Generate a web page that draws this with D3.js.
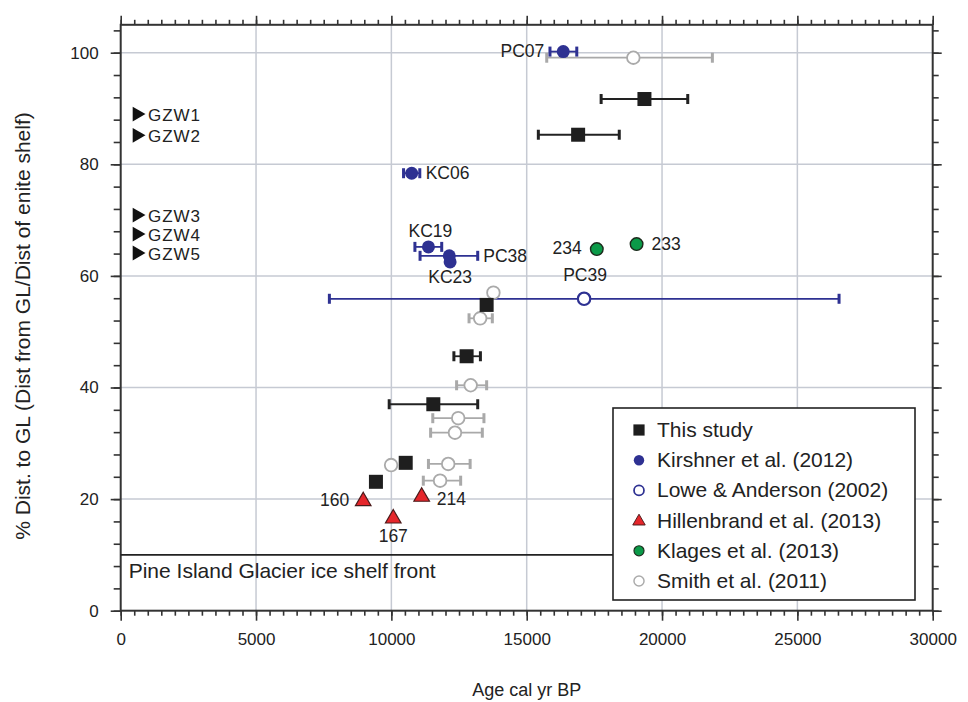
<!DOCTYPE html>
<html>
<head>
<meta charset="utf-8">
<script src="https://cdn.jsdelivr.net/npm/d3@7"></script>
<style>
  body { margin: 0; background: #fff; }
  text { font-family: "Liberation Sans", Arial, sans-serif; fill: #222; }
</style>
</head>
<body>
<svg id="chart" width="968" height="702"></svg>
<script>
// each row: [age cal yr BP, % dist to GL, age min, age max, label]
const thisStudy = [
    [19350, 91.7, 17750, 20950],
    [16900, 85.3, 15430, 18420],
    [13520, 54.8],
    [12780, 45.6, 12310, 13290],
    [11550, 37.0, 9920, 13190],
    [10530, 26.5],
    [9430, 23.1]
];
const kirshner = [
    [16350, 100.2, 15860, 16850, 'PC07'],
    [10750, 78.4, 10450, 11050, 'KC06'],
    [11370, 65.2, 10870, 11860, 'KC19'],
    [12140, 63.6, 11060, 13190, 'PC38'],
    [12170, 62.5, null, null, 'KC23']
];
const lowe = [
    [17120, 55.9, 7710, 26540, 'PC39']
];
const hillenbrand = [
    [8960, 19.8, null, null, '160'],
    [10070, 16.7, null, null, '167'],
    [11120, 20.6, null, null, '214']
];
const klages = [
    [17590, 64.8, null, null, '234'],
    [19060, 65.7, null, null, '233']
];
const smith = [
    [18940, 99.1, 15740, 21860],
    [13770, 57.0],
    [13280, 52.4, 12870, 13730],
    [12930, 40.4, 12410, 13520],
    [12470, 34.5, 11530, 13420],
    [12350, 31.9, 11450, 13360],
    [9990, 26.1],
    [12100, 26.3, 11370, 12910],
    [11800, 23.3, 11180, 12560]
];
const gzwNames = ['GZW1', 'GZW2', 'GZW3', 'GZW4', 'GZW5'];
const gzwDist = [89.0, 85.2, 70.9, 67.5, 64.1];
const gzwAge = 600;
const iceShelfFront = 10;
const legendNames = ['This study', 'Kirshner et al. (2012)', 'Lowe & Anderson (2002)',
    'Hillenbrand et al. (2013)', 'Klages et al. (2013)', 'Smith et al. (2011)'];
const xMajor = d3.range(0, 30001, 5000);
const xMinor = d3.range(0, 30001, 500);
const yMajor = d3.range(0, 101, 20);
const yMinor = d3.range(0, 105, 4);

// label placement (offset from the marker, px)
const labelPos = {
    PC07: [-19, 5, 'end'], KC06: [14, 6, 'start'], KC19: [2, -10, 'middle'],
    PC38: [34, 6, 'start'], KC23: [0, 21, 'middle'], PC39: [1, -18, 'middle'],
    '160': [-14, 6, 'end'], '167': [0, 24, 'middle'], '214': [15, 9, 'start'],
    '234': [-15, 5, 'end'], '233': [15, 6, 'start']
};

const svg = d3.select('#chart');
const L = 120.7, R = 932.7, T = 24.8, B = 610.7;
const x = d3.scaleLinear().domain([0, 30000]).range([L, R]);
const y = d3.scaleLinear().domain([0, 105]).range([B, T]);

// grid
svg.append('g').selectAll('line').data(xMajor.slice(1, -1)).enter().append('line')
    .attr('x1', d => x(d)).attr('x2', d => x(d)).attr('y1', T).attr('y2', B)
    .attr('stroke', '#c6cad3').attr('stroke-width', 1.5);
svg.append('g').selectAll('line').data(yMajor.slice(1)).enter().append('line')
    .attr('x1', L).attr('x2', R).attr('y1', d => y(d)).attr('y2', d => y(d))
    .attr('stroke', '#c6cad3').attr('stroke-width', 1.5);

// axes: minor + major ticks on all four sides
function ticks(axisFn, scale, vals, size, pos, labels) {
    const a = axisFn(scale).tickValues(vals).tickSizeInner(size).tickSizeOuter(0).tickPadding(12)
        .tickFormat(labels ? d3.format('d') : '');
    const g = svg.append('g').attr('transform', pos).call(a);
    g.select('.domain').remove();
    g.selectAll('line').attr('stroke', '#333').attr('stroke-width', 1.6);
    g.selectAll('text').attr('font-size', 17).attr('fill', '#222')
        .style('font-family', '"Liberation Sans", Arial, sans-serif');
    return g;
}
ticks(d3.axisBottom, x, xMinor, 5, `translate(0,${B})`);
ticks(d3.axisBottom, x, xMajor, 10, `translate(0,${B})`, true);
ticks(d3.axisTop, x, xMinor, 5, `translate(0,${T})`);
ticks(d3.axisTop, x, xMajor, 9, `translate(0,${T})`);
ticks(d3.axisLeft, y, yMinor, 7, `translate(${L},0)`);
ticks(d3.axisLeft, y, yMajor, 10, `translate(${L},0)`, true);
ticks(d3.axisRight, y, yMinor, 6, `translate(${R},0)`);
ticks(d3.axisRight, y, yMajor, 9, `translate(${R},0)`);

svg.append('rect').attr('x', L).attr('y', T).attr('width', R - L).attr('height', B - T)
    .attr('fill', 'none').attr('stroke', '#333').attr('stroke-width', 2);

// axis titles
svg.append('text').attr('x', (L + R) / 2).attr('y', 696).attr('text-anchor', 'middle')
    .attr('font-size', 18).text('Age cal yr BP');
svg.append('text').attr('transform', `translate(30,326) rotate(-90)`)
    .attr('text-anchor', 'middle').attr('font-size', 21)
    .text('% Dist. to GL (Dist from GL/Dist of enite shelf)');

// legend box geometry
const lg = { x: 613, y: 408, w: 302, h: 192 };

// ice shelf front
svg.append('line').attr('x1', x(0)).attr('x2', lg.x).attr('y1', y(iceShelfFront)).attr('y2', y(iceShelfFront))
    .attr('stroke', '#222').attr('stroke-width', 1.6);
svg.append('text').attr('x', x(0) + 8).attr('y', y(iceShelfFront) + 23)
    .attr('font-size', 21).text('Pine Island Glacier ice shelf front');

// GZW markers
const gz = svg.append('g');
gz.selectAll('path').data(gzwDist).enter().append('path')
    .attr('d', d3.symbol(d3.symbolTriangle, 95)())
    .attr('transform', d => `translate(${x(gzwAge)},${y(d)}) rotate(90)`)
    .attr('fill', '#111');
gz.selectAll('text').data(gzwDist).enter().append('text')
    .attr('x', x(gzwAge) + 11).attr('y', d => y(d) + 6.5)
    .attr('font-size', 17).attr('letter-spacing', 1).text((d, i) => gzwNames[i]);

// error bars
function errorBars(data, color) {
    const g = svg.append('g');
    const rows = data.filter(d => d[2] != null);
    g.selectAll('line').data(rows).enter().append('line')
        .attr('x1', d => x(d[2])).attr('x2', d => x(d[3]))
        .attr('y1', d => y(d[1])).attr('y2', d => y(d[1]))
        .attr('stroke', color).attr('stroke-width', 1.8);
    const caps = rows.flatMap(d => [[d[2], d[1]], [d[3], d[1]]]);
    g.selectAll('rect').data(caps).enter().append('rect')
        .attr('x', d => x(d[0]) - 1.5).attr('y', d => y(d[1]) - 5)
        .attr('width', 3).attr('height', 10).attr('fill', color);
}
errorBars(smith, '#a9a9a9');
errorBars(lowe, '#2e3192');
errorBars(thisStudy, '#222');
errorBars(kirshner, '#2e3192');

// marker styles
const styles = {
    square: g => g.append('rect').attr('x', -7).attr('y', -7).attr('width', 14).attr('height', 14).attr('fill', '#1e1e1e'),
    blueDot: g => g.append('circle').attr('r', 6.5).attr('fill', '#2e3192'),
    blueRing: g => g.append('circle').attr('r', 6.2).attr('fill', '#fff').attr('stroke', '#2e3192').attr('stroke-width', 2.2),
    triangle: g => g.append('path').attr('d', d3.symbol(d3.symbolTriangle, 105)()).attr('transform', 'translate(0,1)')
        .attr('fill', '#e5262b').attr('stroke', '#4a1a1a').attr('stroke-width', 1.2),
    greenDot: g => g.append('circle').attr('r', 6.3).attr('fill', '#0b9a48').attr('stroke', '#1c2a1c').attr('stroke-width', 1.4),
    greyRing: g => g.append('circle').attr('r', 6.3).attr('fill', '#fff').attr('stroke', '#aaaaaa').attr('stroke-width', 1.8)
};

function markers(data, style) {
    const g = svg.append('g').selectAll('g').data(data).enter().append('g')
        .attr('transform', d => `translate(${x(d[0])},${y(d[1])})`);
    styles[style](g);
}
markers(smith, 'greyRing');
markers(lowe, 'blueRing');
markers(thisStudy, 'square');
markers(kirshner, 'blueDot');
markers(hillenbrand, 'triangle');
markers(klages, 'greenDot');

// point labels
const labelled = [].concat(kirshner, lowe, hillenbrand, klages).filter(d => d[4]);
svg.append('g').selectAll('text').data(labelled).enter().append('text')
    .attr('x', d => x(d[0]) + labelPos[d[4]][0])
    .attr('y', d => y(d[1]) + labelPos[d[4]][1])
    .attr('text-anchor', d => labelPos[d[4]][2])
    .attr('font-size', 17.5).text(d => d[4]);

// legend
svg.append('rect').attr('x', lg.x).attr('y', lg.y).attr('width', lg.w).attr('height', lg.h)
    .attr('fill', '#fff').attr('stroke', '#222').attr('stroke-width', 1.6);
const legendStyles = ['square', 'blueDot', 'blueRing', 'triangle', 'greenDot', 'greyRing'];
const items = svg.append('g').selectAll('g').data(legendNames).enter().append('g')
    .attr('transform', (d, i) => `translate(${lg.x + 26},${lg.y + 22 + i * 30.2})`);
items.each(function (d, i) {
    const g = d3.select(this);
    const s = g.append('g').attr('transform', 'scale(0.8)');
    styles[legendStyles[i]](s);
    g.append('text').attr('x', 18).attr('y', 7).attr('font-size', 21).text(d);
});
</script>
</body>
</html>
